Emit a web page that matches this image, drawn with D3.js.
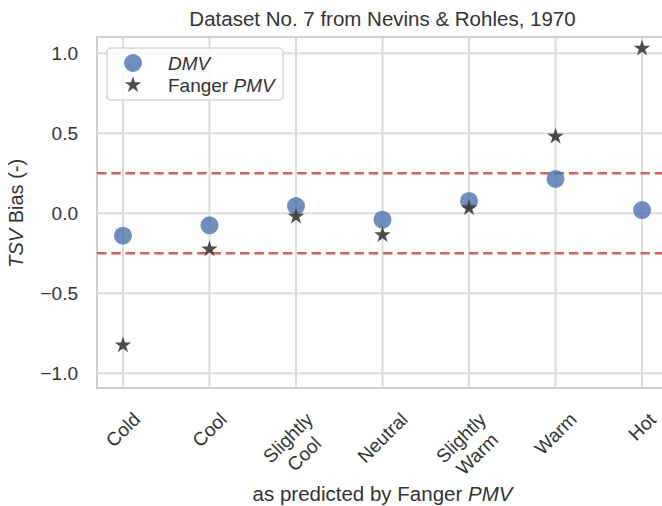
<!DOCTYPE html>
<html>
<head>
<meta charset="utf-8">
<script src="https://cdn.jsdelivr.net/npm/d3@7"></script>
<style>
  body { margin: 0; background: #fff; }
  text { font-family: "Liberation Sans", Arial, sans-serif; fill: #333; }
</style>
</head>
<body>
<div id="chart"></div>
<script>
// categories on the x axis (PMV class)
const categories = [['Cold'], ['Cool'], ['Slightly', 'Cool'], ['Neutral'],
                    ['Slightly', 'Warm'], ['Warm'], ['Hot']];
// mean TSV bias per class
const dmvBias = [-0.14, -0.075, 0.045, -0.04, 0.077, 0.215, 0.02];
const pmvBias = [-0.825, -0.225, -0.02, -0.135, 0.033, 0.48, 1.03];
// tolerance band
const bandLimits = [-0.25, 0.25];
const yTicks = [-1.0, -0.5, 0.0, 0.5, 1.0];

const W = 662, H = 506;
const margin = {top: 37, left: 97, bottom: 118, right: -6};

const svg = d3.select('#chart').append('svg')
  .attr('width', W).attr('height', H);

const plotW = W - margin.left - margin.right;
const plotH = H - margin.top - margin.bottom;

const keys = categories.map(c => c.join(' '));
const x = d3.scalePoint().domain(keys).range([0, plotW]).padding(0.3);
const y = d3.scaleLinear().domain([-1.092, 1.102]).range([plotH, 0]);

const chart = svg.append('g')
  .attr('transform', `translate(${margin.left}, ${margin.top})`);

// grid
chart.append('g').selectAll('line').data(yTicks).join('line')
  .attr('x1', 0).attr('x2', plotW)
  .attr('y1', d => y(d)).attr('y2', d => y(d))
  .attr('stroke', '#dcdcdc').attr('stroke-width', 2);
chart.append('g').selectAll('line').data(keys).join('line')
  .attr('x1', d => x(d)).attr('x2', d => x(d))
  .attr('y1', 0).attr('y2', plotH)
  .attr('stroke', '#dcdcdc').attr('stroke-width', 2);

// frame
chart.append('rect')
  .attr('width', plotW).attr('height', plotH)
  .attr('fill', 'none').attr('stroke', '#d0d0d0').attr('stroke-width', 2);

// y tick labels
chart.append('g').selectAll('text').data(yTicks).join('text')
  .attr('x', -19).attr('y', d => y(d)).attr('dy', '0.35em')
  .attr('text-anchor', 'end').style('font-size', '19px')
  .text(d => d3.format('.1f')(d).replace('-', '\u2212'));

// band lines
chart.append('g').selectAll('line').data(bandLimits).join('line')
  .attr('x1', 0).attr('x2', plotW)
  .attr('y1', d => y(d)).attr('y2', d => y(d))
  .attr('stroke', '#d65f5f').attr('stroke-width', 2.5)
  .attr('stroke-dasharray', '9.5,4.8');

// DMV circles
chart.append('g').selectAll('circle').data(dmvBias).join('circle')
  .attr('cx', (d, i) => x(keys[i])).attr('cy', d => y(d))
  .attr('r', 9).attr('fill', '#4c72b0').attr('fill-opacity', 0.8);

// PMV stars
const star = d3.symbol().type(d3.symbolStar).size(85);
chart.append('g').selectAll('path').data(pmvBias).join('path')
  .attr('transform', (d, i) => `translate(${x(keys[i])}, ${y(d)})`)
  .attr('d', star).attr('fill', '#3a3a3a').attr('fill-opacity', 0.9);

// x tick labels, rotated 45 and centred under the tick
const xl = chart.append('g');
categories.forEach((lines, i) => {
  const g = xl.append('g');
  const t = g.append('text')
    .attr('text-anchor', 'middle').style('font-size', '19px')
    .attr('transform', 'rotate(-45)');
  const lh = 19 * 1.2;
  lines.forEach((s, j) => {
    t.append('tspan').attr('x', 0)
      .attr('y', (j - (lines.length - 1) / 2) * lh)
      .attr('dy', '0.35em').text(s);
  });
  const bb = t.node().getBBox();
  const h = (bb.width + (lines.length - 1) * lh + 14) / Math.SQRT2;
  g.attr('transform', `translate(${x(keys[i])}, ${plotH + 23 + h / 2})`);
});

// title
svg.append('text')
  .attr('x', margin.left + plotW / 2).attr('y', 26)
  .attr('text-anchor', 'middle').style('font-size', '20.5px')
  .text('Dataset No. 7 from Nevins & Rohles, 1970');

// x label
const xlab = svg.append('text')
  .attr('x', margin.left + plotW / 2).attr('y', 501)
  .attr('text-anchor', 'middle').style('font-size', '20.5px');
xlab.append('tspan').text('as predicted by Fanger ');
xlab.append('tspan').style('font-style', 'italic').text('PMV');

// y label
const ylab = svg.append('text')
  .attr('transform', `translate(23, ${margin.top + y(0)}) rotate(-90)`)
  .attr('text-anchor', 'middle').style('font-size', '20px');
ylab.append('tspan').style('font-style', 'italic').text('TSV');
ylab.append('tspan').text(' Bias (-)');

// legend
const lg = svg.append('g').attr('transform', 'translate(107, 48)');
lg.append('rect')
  .attr('width', 176).attr('height', 52).attr('rx', 4)
  .attr('fill', '#fff').attr('fill-opacity', 0.85)
  .attr('stroke', '#d6d6d6').attr('stroke-width', 1.5);
lg.append('circle').attr('cx', 26).attr('cy', 15).attr('r', 9)
  .attr('fill', '#4c72b0').attr('fill-opacity', 0.8);
lg.append('path').attr('transform', 'translate(26, 37)')
  .attr('d', star).attr('fill', '#3a3a3a').attr('fill-opacity', 0.9);
lg.append('text').attr('x', 61).attr('y', 22)
  .style('font-size', '19px').style('font-style', 'italic').text('DMV');
const lt = lg.append('text').attr('x', 61).attr('y', 44).style('font-size', '19px');
lt.append('tspan').text('Fanger ');
lt.append('tspan').style('font-style', 'italic').text('PMV');
</script>
</body>
</html>
